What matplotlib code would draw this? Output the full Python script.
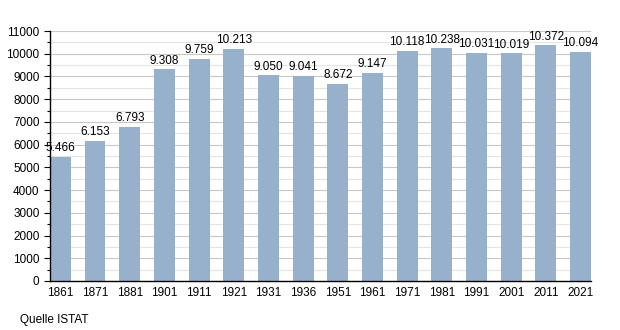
import numpy as np
import matplotlib.pyplot as plt
from matplotlib.ticker import MultipleLocator

plt.rcParams['font.family'] = ['Liberation Sans', 'DejaVu Sans']

years = ['1861', '1871', '1881', '1901', '1911', '1921', '1931', '1936',
         '1951', '1961', '1971', '1981', '1991', '2001', '2011', '2021']
population = [5466, 6153, 6793, 9308, 9759, 10213, 9050, 9041,
              8672, 9147, 10118, 10238, 10031, 10019, 10372, 10094]

fig = plt.figure(figsize=(6.2, 3.3), dpi=100)
ax = fig.add_axes([0.0806, 0.1485, 0.8726, 0.7575])

x = np.arange(len(years))
ax.bar(x, population, width=0.6, color='#97b1cc', zorder=2)

for xi, v in zip(x, population):
    label = f'{v:,}'.replace(',', '.')
    ax.text(xi, v + 120, label, ha='center', va='bottom', fontsize=8.5, zorder=3)

ax.set_xlim(-0.3, 15.3)
ax.set_ylim(0, 11000)
ax.set_xticks(x)
ax.set_xticklabels(years, fontsize=8.5)
ax.yaxis.set_major_locator(MultipleLocator(1000))
ax.yaxis.set_minor_locator(MultipleLocator(500))
ax.tick_params(axis='y', labelsize=8.5, length=4, width=0.8)
ax.tick_params(axis='y', which='minor', length=2, width=0.8)
ax.tick_params(axis='x', length=0, pad=4)
ax.grid(axis='y', which='major', color='#c8c8c8', linewidth=0.8, zorder=0)
ax.grid(axis='y', which='minor', color='#e4e4e4', linewidth=0.8, zorder=0)
ax.set_axisbelow(True)
for s in ['top', 'right']:
    ax.spines[s].set_visible(False)
ax.spines['left'].set_linewidth(1)
ax.spines['bottom'].set_linewidth(1)

fig.text(20 / 620, 1 - 320 / 330, 'Quelle ISTAT', fontsize=8.5, ha='left', va='center')

fig.savefig('out.png', dpi=100)
